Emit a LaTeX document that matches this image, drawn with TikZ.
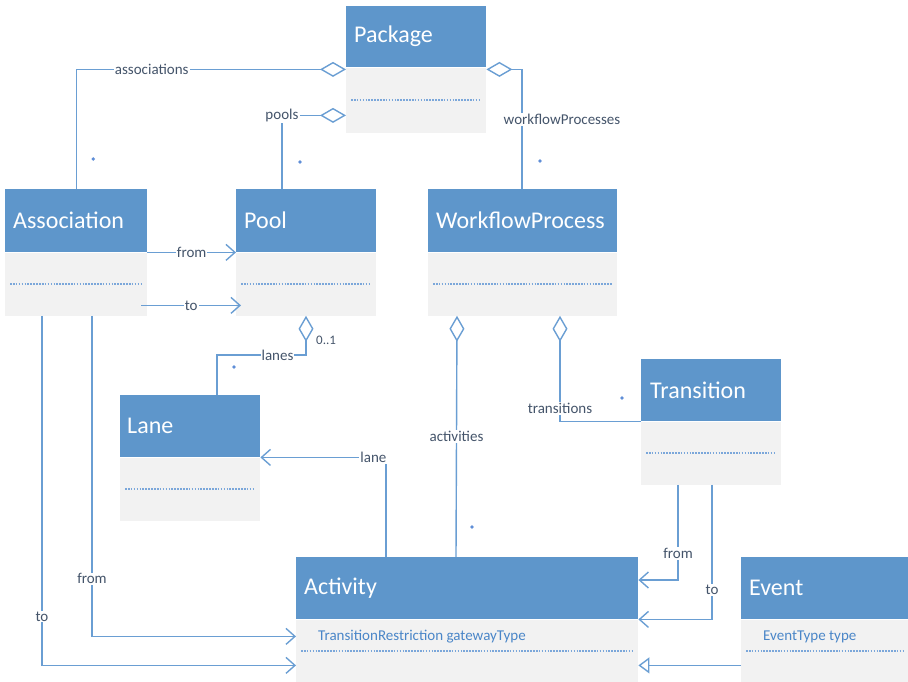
\documentclass[tikz,border=0pt]{standalone}
\usepackage{fontspec}
\setmainfont{Carlito}
\usetikzlibrary{arrows.meta,calc}
\definecolor{hdrc}{HTML}{5E96CB}
\definecolor{bodyc}{HTML}{F2F2F2}
\definecolor{lnc}{HTML}{6A9ED3}
\definecolor{dotc}{HTML}{7BA7DA}
\definecolor{lblc}{HTML}{44546A}
\definecolor{attrc}{HTML}{4A86C8}
\begin{document}
\begin{tikzpicture}[x=1pt,y=-1pt,
  hdr/.style={fill=hdrc, anchor=north west, inner sep=0pt, minimum height=#1},
  bdy/.style={fill=bodyc, anchor=north west, inner sep=0pt, minimum height=#1},
  htxt/.style={anchor=west, text=white, font=\fontsize{24}{27}\selectfont, inner sep=0pt},
  atxt/.style={anchor=west, text=attrc, font=\fontsize{15}{17}\selectfont, inner sep=0pt},
  lbl/.style={fill=white, text=lblc, font=\fontsize{15}{17}\selectfont, inner sep=1pt},
  mult/.style={text=lblc, font=\fontsize{13}{13}\selectfont, inner sep=0pt},
  star/.style={circle, fill=lnc!90!blue, inner sep=0pt, minimum size=3.8pt},
  conn/.style={draw=lnc, line width=1.4pt},
  agg/.style={conn, {Diamond[open,length=26pt,width=15pt,line width=1.4pt]}-},
  nav/.style={conn, -{Straight Barb[length=9pt,width=16pt,line width=1.4pt]}},
  gen/.style={conn, -{Triangle[open,length=11pt,width=16pt,line width=1.4pt]}},
  dots/.style={draw=dotc, line width=2pt, dash pattern=on 1.6pt off 1.3pt}
]
\useasboundingbox (0,0) rectangle (908,682);

% Package
\node[hdr=61pt, minimum width=140pt] (pkgh) at (346,6) {};
\node[bdy=65pt, minimum width=140pt] (pkgb) at (pkgh.south west) {};
\node[htxt] (pkgt) at ($(pkgh.west)+(8,0)$) {Package};
\draw[dots] ($(pkgb.west)+(5,0)$) -- ($(pkgb.east)+(-5,0)$);

% Association
\node[hdr=63pt, minimum width=142pt] (assoch) at (5,189) {};
\node[bdy=63pt, minimum width=142pt] (assocb) at (assoch.south west) {};
\node[htxt] (assoct) at ($(assoch.west)+(8,0)$) {Association};
\draw[dots] ($(assocb.west)+(5,0)$) -- ($(assocb.east)+(-5,0)$);

% Pool
\node[hdr=63pt, minimum width=140pt] (poolh) at (236,189) {};
\node[bdy=63pt, minimum width=140pt] (poolb) at (poolh.south west) {};
\node[htxt] (poolt) at ($(poolh.west)+(8,0)$) {Pool};
\draw[dots] ($(poolb.west)+(5,0)$) -- ($(poolb.east)+(-5,0)$);

% WorkflowProcess
\node[hdr=63pt, minimum width=189pt] (wfph) at (428,189) {};
\node[bdy=63pt, minimum width=189pt] (wfpb) at (wfph.south west) {};
\node[htxt] (wfpt) at ($(wfph.west)+(8,0)$) {WorkflowProcess};
\draw[dots] ($(wfpb.west)+(5,0)$) -- ($(wfpb.east)+(-5,0)$);

% Lane
\node[hdr=62pt, minimum width=140pt] (laneh) at (120,395) {};
\node[bdy=63pt, minimum width=140pt] (laneb) at (laneh.south west) {};
\node[htxt] (lanet) at ($(laneh.west)+(7,0)$) {Lane};
\draw[dots] ($(laneb.west)+(5,0)$) -- ($(laneb.east)+(-5,0)$);

% Transition
\node[hdr=62pt, minimum width=140pt] (transh) at (641,359) {};
\node[bdy=63pt, minimum width=140pt] (transb) at (transh.south west) {};
\node[htxt] (transt) at ($(transh.west)+(9,0)$) {Transition};
\draw[dots] ($(transb.west)+(5,0)$) -- ($(transb.east)+(-5,0)$);

% Activity
\node[hdr=62pt, minimum width=342pt] (acth) at (296,557) {};
\node[bdy=63pt, minimum width=342pt] (actb) at (acth.south west) {};
\node[htxt] (actt) at ($(acth.west)+(8,0)$) {Activity};
\node[atxt] (acta) at ($(actb.north west)+(22,17)$) {TransitionRestriction gatewayType};
\draw[dots] ($(actb.north west)+(5,32)$) -- ($(actb.north east)+(-5,32)$);

% Event
\node[hdr=62pt, minimum width=167pt] (evh) at (741,557) {};
\node[bdy=63pt, minimum width=167pt] (evb) at (evh.south west) {};
\node[htxt] (evt) at ($(evh.west)+(8,0)$) {Event};
\node[atxt] (eva) at ($(evb.north west)+(22,17)$) {EventType type};
\draw[dots] ($(evb.north west)+(5,32)$) -- ($(evb.north east)+(-5,32)$);

% Package aggregations
\draw[agg] ($(pkgh.south west)+(0,2)$) -| (assoch.north) node[lbl, pos=0.36] (l1) {associations};
\node[star] (m1) at ($(assoch.north)+(17,-30)$) {};
\draw[agg] ($(pkgb.north west)+(0,48)$) -| ($(poolh.north west)+(46,0)$) node[lbl, pos=0.5] (l2) {pools};
\node[star] (m2) at ($(poolh.north west)+(64,-27)$) {};
\draw[agg] ($(pkgh.south east)+(0,2)$) -| ($(wfph.north west)+(94,0)$) node[lbl, pos=0.71, xshift=40pt] (l3) {workflowProcesses};
\node[star] (m3) at ($(wfph.north west)+(112,-28)$) {};

% Association -> Pool
\draw[nav] (assoch.south east) -- (poolh.south west) node[lbl, midway] (l4) {from};
\draw[nav] ($(assocb.north east)+(-6,53)$) -- ($(poolb.north west)+(5,53)$) node[lbl, midway] (l5) {to};

% Pool lanes
\draw[agg] ($(poolb.south west)+(70,0)$) |- ($(laneh.north west)+(97,-40)$) node[lbl, pos=0.66] (l6) {lanes} -- ($(laneh.north west)+(97,0)$);
\node[mult, anchor=west] (m6) at ($(poolb.south west)+(80,25)$) {0..1};
\node[star] (m7) at ($(laneh.north west)+(114,-28)$) {};

% WorkflowProcess activities / transitions
\draw[agg] ($(wfpb.south west)+(29,0)$) -- ($(acth.north west)+(160,0)$) node[lbl, midway] (l8) {activities};
\node[star] (m8) at ($(acth.north west)+(176,-30)$) {};
\draw[agg] ($(wfpb.south west)+(132,0)$) |- (transh.south west) node[lbl, pos=0.44] (l9) {transitions};
\node[star] (m9) at ($(transh.north west)+(-19,39)$) {};

% Activity -> Lane
\draw[nav] ($(acth.north west)+(90,0)$) |- (laneh.south east) node[lbl, pos=0.55] (l10) {lane};

% Transition -> Activity
\draw[nav] ($(transb.south west)+(37,0)$) |- ($(acth.north east)+(0,23)$) node[lbl, pos=0.36] (l11) {from};
\draw[nav] ($(transb.south west)+(71,0)$) |- (acth.south east) node[lbl, pos=0.39] (l12) {to};

% Association -> Activity
\draw[nav] ($(assocb.south west)+(87,0)$) |- ($(actb.north west)+(0,17)$) node[lbl, pos=0.41] (l13) {from};
\draw[nav] ($(assocb.south west)+(37,0)$) |- ($(actb.north west)+(0,46)$) node[lbl, pos=0.43] (l14) {to};

% Event generalization
\draw[gen] ($(evb.north west)+(0,46)$) -- ($(actb.north east)+(0,46)$);
\end{tikzpicture}
\end{document}
